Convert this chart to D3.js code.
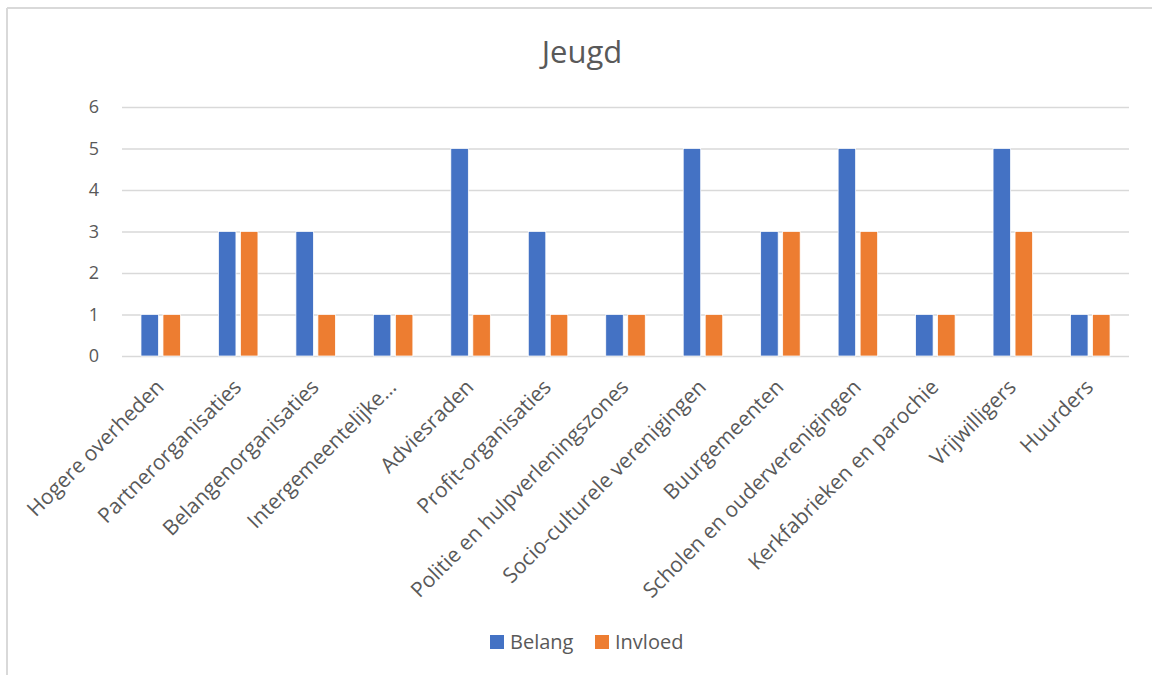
<!DOCTYPE html>
<html><head><meta charset="utf-8">
<script src="https://cdn.jsdelivr.net/npm/d3@7"></script>
<style>html,body{margin:0;padding:0;background:#fff;}svg{display:block;font-family:"Open Sans",Lato,sans-serif;}</style>
</head><body>
<script>
const categories = ["Hogere overheden","Partnerorganisaties","Belangenorganisaties","Intergemeentelijke…","Adviesraden","Profit-organisaties","Politie en hulpverleningszones","Socio-culturele verenigingen","Buurgemeenten","Scholen en ouderverenigingen","Kerkfabrieken en parochie","Vrijwilligers","Huurders"];
const belang  = [1,3,3,1,5,3,1,5,3,5,1,5,1];
const invloed = [1,3,1,1,1,1,1,1,3,3,1,3,1];
const seriesNames = ["Belang","Invloed"];
const yTicks = [0,1,2,3,4,5,6];
const colors = ["#4472C4","#ED7D31"];

(function(){
const W=1152,H=675;
const FF="'Open Sans',Lato,sans-serif";
const svg=d3.select("body").append("svg").attr("width",W).attr("height",H);
svg.append("line").attr("x1",7).attr("x2",7).attr("y1",8).attr("y2",H).attr("stroke","#d9d9d9").attr("stroke-width",2);
svg.append("line").attr("x1",7).attr("x2",W).attr("y1",8).attr("y2",8).attr("stroke","#d9d9d9").attr("stroke-width",2);

const pL=122,pR=1129,pT=107,pB=356;
const x=d3.scaleBand().domain(categories).range([pL,pR]).paddingInner(0).paddingOuter(0);
const y=d3.scaleLinear().domain([0,6]).range([pB,pT]);
const data=categories.map((c,i)=>({c,vals:[belang[i],invloed[i]]}));

svg.append("text").attr("x",582).attr("y",63).attr("text-anchor","middle").attr("font-size",31).attr("fill","#595959").text("Jeugd");

const yAxis=d3.axisLeft(y).tickValues(yTicks).tickSize(-(pR-pL)).tickPadding(23).tickFormat(d3.format("d"));
const ga=svg.append("g").attr("transform",`translate(${pL},0)`).call(yAxis);
ga.select(".domain").remove();
ga.selectAll(".tick line").attr("stroke","#d9d9d9").attr("stroke-width",1.5);
ga.selectAll(".tick text").attr("font-size",18).attr("fill","#595959").attr("font-family",FF);

const bw=17.5,gap=4.5;
const g=svg.append("g");
data.forEach(d=>{
  const cx=x(d.c)+x.bandwidth()/2;
  d.vals.forEach((v,k)=>{
    const x0 = k===0 ? cx-gap/2-bw : cx+gap/2;
    g.append("rect").attr("x",x0).attr("y",y(v)).attr("width",bw).attr("height",y(0)-y(v))
      .attr("fill",colors[k]).attr("stroke","#fff").attr("stroke-width",0.75);
  });
});

const xl=svg.append("g");
categories.forEach(c=>{
  const cx=x(c)+x.bandwidth()/2-6;
  xl.append("text").attr("transform",`translate(${cx},${378}) rotate(-45)`).attr("text-anchor","end")
    .attr("dy","0.7em").attr("font-size",21).attr("fill","#595959").text(c);
});

const lg=svg.append("g");
const lx=[490,595];
seriesNames.forEach((s,k)=>{
  lg.append("rect").attr("x",lx[k]).attr("y",635).attr("width",14).attr("height",14).attr("fill",colors[k]);
  lg.append("text").attr("x",lx[k]+20).attr("y",649).attr("font-size",20).attr("fill","#595959").text(s);
});
})();
</script>
</body></html>
